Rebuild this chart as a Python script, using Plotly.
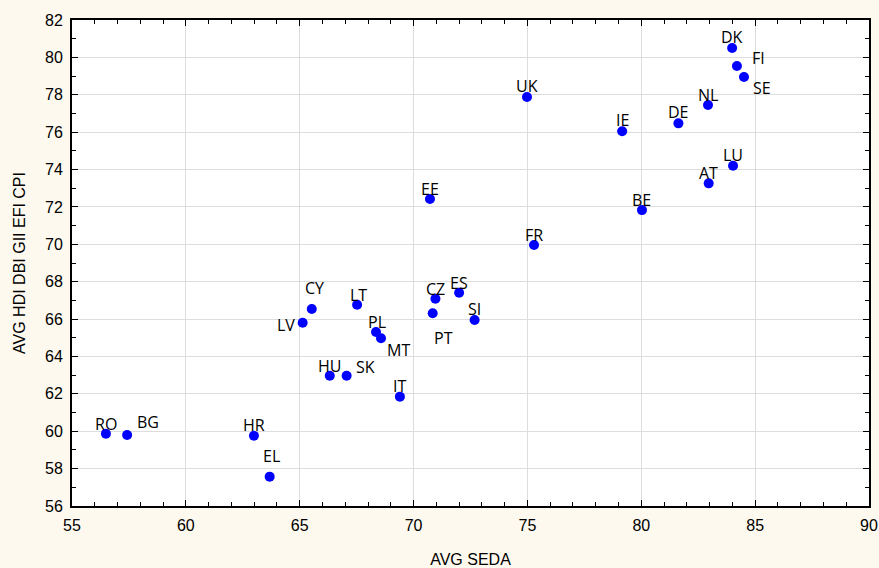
import plotly.graph_objects as go

countries = ["DK", "FI", "SE", "NL", "DE", "IE", "UK", "LU", "AT", "BE", "EE", "FR",
             "CY", "LV", "LT", "PL", "MT", "HU", "SK", "IT", "CZ", "PT", "ES", "SI",
             "RO", "BG", "HR", "EL"]
avg_seda = [83.99, 84.20, 84.51, 82.93, 81.63, 79.16, 74.98, 84.03, 82.96, 80.03, 70.72, 75.29,
            65.53, 65.13, 67.52, 68.35, 68.57, 66.32, 67.06, 69.40, 70.96, 70.84, 72.00, 72.68,
            56.49, 57.42, 62.99, 63.68]
avg_index = [80.50, 79.54, 78.95, 77.45, 76.47, 76.05, 77.88, 74.20, 73.26, 71.83, 72.42, 69.96,
             66.54, 65.80, 66.77, 65.31, 64.97, 62.97, 62.97, 61.85, 67.09, 66.31, 67.41, 65.95,
             59.87, 59.80, 59.76, 57.57]

# label offsets in pixels (dx right, dy up)
label_dx = [0, 22, 18, 0, 0, 0, 0, 0, 0, 0, 0, 0,
            3, -17, 1, 1, 17, 0, 19, 0, 0, 11, 0, 0,
            0, 21, 0, 2]
label_dy = [11, 8, -11, 10, 11, 11, 11, 11, 10, 10, 10, 10,
            21, -2, 10, 10, -12, 10, 9, 11, 10, -25, 10, 11,
            10, 13, 11, 21]

fig = go.Figure()
fig.add_trace(go.Scatter(
    x=avg_seda, y=avg_index, mode="markers",
    marker=dict(color="#0000FF", size=10, line=dict(width=0)),
    hovertext=countries, showlegend=False,
))

for c, xv, yv, dx, dy in zip(countries, avg_seda, avg_index, label_dx, label_dy):
    fig.add_annotation(x=xv, y=yv, text=c, showarrow=False,
                       xshift=dx, yshift=dy,
                       font=dict(family="Open Sans, Noto Sans, sans-serif", size=16, color="#000000"))

axis_font = dict(family="Liberation Sans, Arial, sans-serif", size=16, color="#000000")
axis_common = dict(
    showline=True, linecolor="#000000", linewidth=2, mirror="allticks",
    ticks="inside", ticklen=6, tickcolor="#000000", tickwidth=1,
    showgrid=True, gridcolor="#DDDDDD", gridwidth=1, zeroline=False,
    tickfont=axis_font, ticklabelstandoff=4, automargin=False,
)

fig.update_xaxes(range=[55, 90], dtick=5, tick0=55,
                 minor=dict(ticks="inside", dtick=1, ticklen=4, tickcolor="#000000", showgrid=False),
                 title=dict(text="AVG SEDA", standoff=22, font=axis_font),
                 ticklabeloverflow="allow",
                 **axis_common)
fig.update_yaxes(range=[56, 82], dtick=2, tick0=56,
                 minor=dict(ticks="inside", dtick=1, ticklen=4, tickcolor="#000000", showgrid=False),
                 title=dict(text="AVG HDI DBI GII EFI CPI", standoff=15, font=axis_font),
                 **axis_common)

fig.update_layout(
    width=879, height=568,
    margin=dict(l=72, r=10, t=20, b=62),
    paper_bgcolor="#FEF9EE", plot_bgcolor="#FFFFFF",
)

fig.write_html(
    "out.html",
    config={"displayModeBar": False},
    post_script="document.body.style.margin='0';document.body.style.overflow='hidden';"
                "document.body.style.background='#FEF9EE';",
)
